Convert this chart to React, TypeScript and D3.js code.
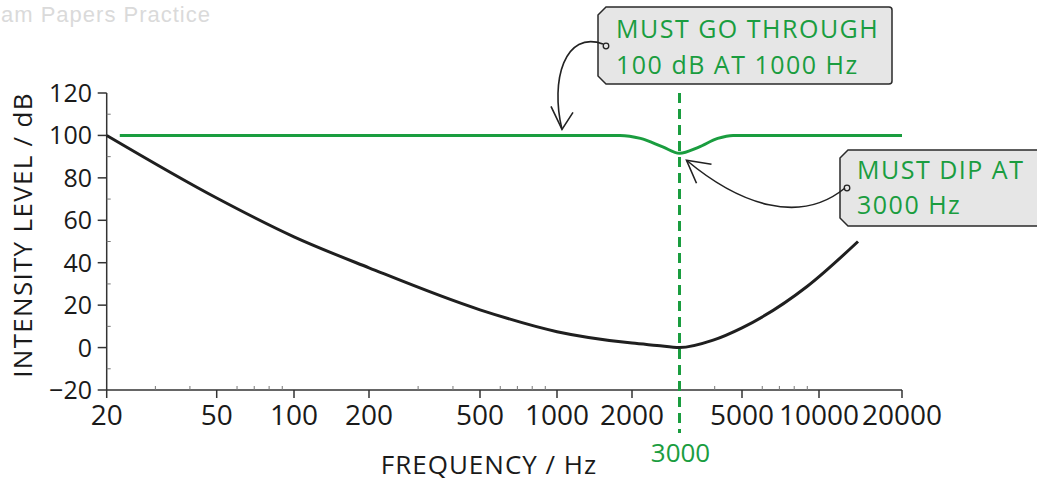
import React from 'react';
import * as d3 from 'd3';

// curves (frequency in Hz, level in dB)
const thresholdFreq = [20, 50, 100, 200, 500, 1000, 2000, 2475, 3000, 3950, 5000, 8980, 13850];
const thresholdDb   = [100, 70.5, 52.2, 37.6, 17.8, 7.5, 2.1, 1.0, 0, 3.5, 9.3, 28.8, 50];

const targetFreq = [22.3, 1000, 1790, 2150, 2600, 3000, 3500, 4100, 4650, 20000];
const targetDb   = [100, 100, 100, 98.6, 94.6, 91.6, 94.4, 98.6, 100, 100];

const xTicks      = [20, 50, 100, 200, 500, 1000, 2000, 5000, 10000, 20000];
const xMinorTicks = [30, 40, 60, 70, 80, 90, 300, 400, 600, 700, 800, 900, 4000, 6000, 7000, 8000, 9000];
const yTicks      = [-20, 0, 20, 40, 60, 80, 100, 120];
const yMinorTicks = [-10, 10, 30, 50, 70, 90, 110];

const dipFreq = 3000;

const WIDTH  = 1037;
const HEIGHT = 481;
const GREEN  = '#1a9d3f';
const AXIS   = '#333';
const FONT   = '"Open Sans", "DejaVu Sans", sans-serif';

function tagPath(left, top, right, bottom, c) {
  return 'M' + left + ',' + (top + c) +
         'L' + (left + c) + ',' + top +
         'L' + (right - 3) + ',' + top +
         'Q' + right + ',' + top + ' ' + right + ',' + (top + 3) +
         'L' + right + ',' + (bottom - 3) +
         'Q' + right + ',' + bottom + ' ' + (right - 3) + ',' + bottom +
         'L' + (left + c) + ',' + bottom +
         'L' + left + ',' + (bottom - c) + 'Z';
}

export default function App() {
  // the printed axis is only roughly logarithmic: piecewise log scale through its ticks
  const knots  = [20, 50, 100, 200, 500, 1000, 2000, 3000, 5000, 10000, 20000];
  const knotPx = [106.7, 216.7, 294, 369, 480, 557, 632, 679.5, 742, 819, 902];
  const xl = d3.scaleLinear().domain(knots.map(Math.log10)).range(knotPx);
  const x = f => xl(Math.log10(f));
  const y = d3.scaleLinear().domain([-20, 120]).range([390, 93]);

  const line = d3.line()
    .x(d => x(d[0]))
    .y(d => y(d[1]))
    .curve(d3.curveMonotoneX);

  const threshold = line(thresholdFreq.map((f, i) => [f, thresholdDb[i]]));
  const target    = line(targetFreq.map((f, i) => [f, targetDb[i]]));

  const x0 = x(20), y0 = y(-20);
  const xDip = x(dipFreq);

  // annotation anchors
  const tip1 = [x(1000) + 5, y(100) - 6];
  const tip2 = [xDip + 7, y(91.6) + 7];

  return (
    <svg width={WIDTH} height={HEIGHT} style={{ position: 'absolute', left: 0, top: 0, background: '#fff' }}>
      <text x={1} y={22} fill="#dadada"
            style={{ fontFamily: '"Liberation Sans", Arial, sans-serif', fontSize: 22, letterSpacing: 1 }}>
        am Papers Practice
      </text>

      {/* axes */}
      <line x1={x0} x2={x(20000)} y1={y0} y2={y0} stroke={AXIS} strokeWidth={1.5} />
      <line x1={x0} x2={x0} y1={y(120)} y2={y0} stroke={AXIS} strokeWidth={1.5} />

      {xTicks.map(t => (
        <g key={'xt' + t}>
          <line x1={x(t)} x2={x(t)} y1={y0} y2={y0 + 8} stroke={AXIS} strokeWidth={1.5} />
          <text x={x(t)} y={425} textAnchor="middle" fill="#1a1a1a"
                style={{ fontFamily: FONT, fontSize: 28 }}>{t}</text>
        </g>
      ))}
      {xMinorTicks.map(t => (
        <line key={'xm' + t} x1={x(t)} x2={x(t)} y1={y0 - 4} y2={y0} stroke="#777" strokeWidth={1} />
      ))}

      {yTicks.map(t => (
        <g key={'yt' + t}>
          <line x1={x0 - 9} x2={x0} y1={y(t)} y2={y(t)} stroke={AXIS} strokeWidth={1.5} />
          <text x={92} y={y(t) + 9} textAnchor="end" fill="#1a1a1a"
                style={{ fontFamily: FONT, fontSize: 25 }}>{t < 0 ? '\u2212' + (-t) : t}</text>
        </g>
      ))}
      {yMinorTicks.map(t => (
        <line key={'ym' + t} x1={x0} x2={x0 + 4} y1={y(t)} y2={y(t)} stroke="#777" strokeWidth={1} />
      ))}

      <text x={489} y={474} textAnchor="middle" fill="#1a1a1a"
            style={{ fontFamily: FONT, fontSize: 26, letterSpacing: 1 }}>FREQUENCY / Hz</text>
      <text transform={'translate(32,' + 235 + ') rotate(-90)'} textAnchor="middle" fill="#1a1a1a"
            style={{ fontFamily: FONT, fontSize: 26, letterSpacing: 1.3 }}>INTENSITY LEVEL / dB</text>

      {/* curves */}
      <path d={threshold} fill="none" stroke="#1f1f1f" strokeWidth={3} />
      <line x1={xDip} x2={xDip} y1={93} y2={433} stroke={GREEN} strokeWidth={3} strokeDasharray="10,6" />
      <path d={target} fill="none" stroke={GREEN} strokeWidth={3} />

      <text x={xDip + 1} y={462} textAnchor="middle" fill={GREEN}
            style={{ fontFamily: FONT, fontSize: 26 }}>{dipFreq}</text>

      {/* annotation 1 */}
      <path d={tagPath(598, 7, 892, 84, 8)} fill="#e6e6e6" stroke="#2a2a2a" strokeWidth={1.5} />
      <circle cx={606} cy={46} r={2.8} fill="none" stroke="#222" strokeWidth={1.3} />
      <text fill={GREEN} style={{ fontFamily: FONT, fontSize: 25, letterSpacing: 1.5 }}>
        <tspan x={616} y={38}>MUST GO THROUGH</tspan>
        <tspan x={616} y={74}>100 dB AT 1000 Hz</tspan>
      </text>
      <path d={'M603,44 C565,30 550,80 ' + tip1[0] + ',' + tip1[1]} fill="none" stroke="#222" strokeWidth={1.6} />
      <path d={'M' + (tip1[0] - 11) + ',' + (tip1[1] - 23) + 'L' + tip1[0] + ',' + tip1[1] + 'L' + (tip1[0] + 11) + ',' + (tip1[1] - 17)}
            fill="none" stroke="#222" strokeWidth={1.6} />

      {/* annotation 2 */}
      <path d={tagPath(840, 150, 1045, 226, 8)} fill="#e6e6e6" stroke="#2a2a2a" strokeWidth={1.5} />
      <circle cx={847} cy={188} r={2.8} fill="none" stroke="#222" strokeWidth={1.3} />
      <text fill={GREEN} style={{ fontFamily: FONT, fontSize: 25, letterSpacing: 1.5 }}>
        <tspan x={857} y={179}>MUST DIP AT</tspan>
        <tspan x={857} y={214}>3000 Hz</tspan>
      </text>
      <path d={'M845,188 C800,225 740,205 ' + tip2[0] + ',' + tip2[1]} fill="none" stroke="#222" strokeWidth={1.6} />
      <path d={'M' + (tip2[0] + 25) + ',' + (tip2[1] + 4) + 'L' + tip2[0] + ',' + tip2[1] + 'L' + (tip2[0] + 10) + ',' + (tip2[1] + 23)}
            fill="none" stroke="#222" strokeWidth={1.6} />
    </svg>
  );
}
